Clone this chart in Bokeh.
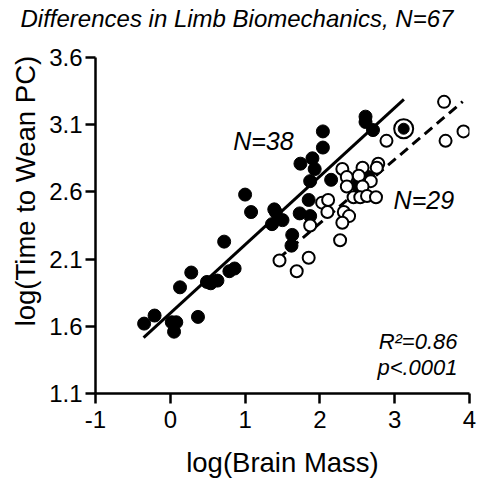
from bokeh.plotting import figure
from bokeh.models import Range1d, FixedTicker, Label, Title
from bokeh.embed import file_html
from bokeh.resources import INLINE

# Filled circles (N=38 group)
filled_x = [-0.35, -0.21, 0.02, 0.08, 0.05, 0.37, 0.13, 0.28, 0.49, 0.54, 0.63, 0.79, 0.86, 0.72,
            1.00, 1.08, 1.39, 1.41, 1.36, 1.50, 1.63, 1.62, 1.73, 1.87, 1.85, 1.87, 1.74, 1.90,
            1.93, 2.04, 2.04, 2.15, 2.61, 2.61, 2.71, 2.65, 2.50]
filled_y = [1.62, 1.68, 1.63, 1.63, 1.56, 1.67, 1.89, 2.00, 1.93, 1.92, 1.94, 2.01, 2.03, 2.23,
            2.58, 2.45, 2.47, 2.45, 2.36, 2.39, 2.28, 2.20, 2.44, 2.42, 2.54, 2.68, 2.81, 2.85,
            2.77, 2.93, 3.05, 2.69, 3.16, 3.12, 3.06, 2.71, 2.65]

# Open circles (N=29 group)
open_x = [3.66, 3.92, 3.68, 2.89, 2.78, 2.76, 2.30, 2.57, 2.36, 2.52, 2.68, 2.36, 2.57, 2.45,
          2.54, 2.63, 2.75, 2.03, 2.11, 2.10, 2.32, 2.39, 1.87, 2.30, 2.27, 1.46, 1.85, 1.69]
open_y = [3.27, 3.05, 2.98, 2.98, 2.81, 2.78, 2.77, 2.78, 2.71, 2.72, 2.68, 2.64, 2.64, 2.56,
          2.56, 2.57, 2.56, 2.52, 2.54, 2.45, 2.45, 2.42, 2.35, 2.37, 2.24, 2.09, 2.11, 2.01]

# Highlighted point (ringed)
ring_x = [3.12]
ring_y = [3.07]

# Regression lines (endpoints)
fit_filled_x = [-0.357, 3.123]
fit_filled_y = [1.516, 3.288]
fit_open_x = [1.446, 3.909]
fit_open_y = [2.104, 3.272]

x_ticks = [-1, 0, 1, 2, 3, 4]
y_ticks = [1.1, 1.6, 2.1, 2.6, 3.1, 3.6]

TITLE = "Differences in Limb Biomechanics, N=67"
X_LABEL = "log(Brain Mass)"
Y_LABEL = "log(Time to Wean PC)"

FONT = "Liberation Sans"

p = figure(width=481, height=480, output_backend="svg", toolbar_location=None,
           x_range=Range1d(-1, 4), y_range=Range1d(1.1, 3.6),
           min_border_left=95, min_border_right=12, min_border_top=57, min_border_bottom=87)
p.outline_line_color = None
p.grid.visible = False
p.background_fill_color = "white"
p.border_fill_color = "white"

xb = p.below[0]
yl = p.left[0]

for ax in (xb, yl):
    ax.axis_line_width = 2.5
    ax.axis_line_color = "black"
    ax.major_tick_line_width = 2.5
    ax.major_tick_line_color = "black"
    ax.major_tick_out = 10
    ax.major_tick_in = 0
    ax.minor_tick_line_color = None
    ax.major_label_text_font = FONT
    ax.major_label_text_font_size = "24px"
    ax.major_label_text_color = "black"
    ax.axis_label_text_font = FONT
    ax.axis_label_text_font_size = "27.5px"
    ax.axis_label_text_font_style = "normal"
    ax.axis_label_text_color = "black"

xb.ticker = FixedTicker(ticks=x_ticks)
yl.ticker = FixedTicker(ticks=y_ticks)
xb.major_label_overrides = {-1: "-1"}
xb.axis_label = X_LABEL
# non-breaking spaces shift the rotated label toward the top, as in the original
yl.axis_label = "\u00a0" * 9 + Y_LABEL
xb.major_label_standoff = 7
yl.major_label_standoff = 3
xb.axis_label_standoff = 16
yl.axis_label_standoff = 5

# blank spacer title next to the frame, then the real title above it
p.add_layout(Title(text="\u00a0", text_font=FONT, text_font_size="12px", standoff=9,
                   text_color="white"), "above")
p.add_layout(Title(text=TITLE, text_font=FONT, text_font_style="italic", text_font_size="24px",
                   align="left", offset=-75, standoff=2, text_color="black"), "above")

p.line(fit_filled_x, fit_filled_y, line_color="black", line_width=3)
p.line(fit_open_x, fit_open_y, line_color="black", line_width=3, line_dash="10 6")

p.scatter(filled_x, filled_y, size=13, fill_color="black", line_color="black", line_width=1)
p.scatter(open_x, open_y, size=12, fill_color="white", line_color="black", line_width=2)
p.scatter(ring_x, ring_y, size=19, fill_color="white", line_color="black", line_width=2)
p.scatter(ring_x, ring_y, size=11, fill_color="black", line_color="black", line_width=1)

for (tx, ty, txt, al, fs) in [(0.84, 2.98, "N=38", "left", "25px"),
                              (2.985, 2.537, "N=29", "left", "25px"),
                              (3.84, 1.49, "R\u00b2=0.86", "right", "22px"),
                              (3.84, 1.29, "p<.0001", "right", "22px")]:
    p.add_layout(Label(x=tx, y=ty, text=txt, text_font=FONT, text_font_style="italic",
                       text_font_size=fs, text_baseline="middle", text_align=al,
                       text_color="black"))

open("out.html", "w").write(file_html(p, INLINE))
